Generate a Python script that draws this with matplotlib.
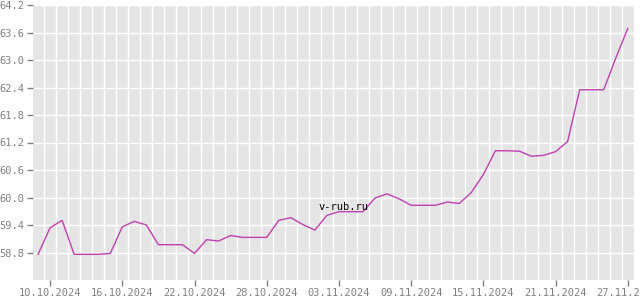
import matplotlib
matplotlib.use("Agg")
import matplotlib.pyplot as plt
import matplotlib.dates as mdates
import numpy as np
import datetime as dt

start_date = "2024-10-09"
values = [58.76, 59.34, 59.50, 58.76, 58.76, 58.76, 58.78, 59.36, 59.48, 59.40,
          58.97, 58.97, 58.97, 58.78, 59.08, 59.05, 59.17, 59.13, 59.13, 59.13,
          59.50, 59.56, 59.41, 59.29, 59.61, 59.69, 59.69, 59.69, 59.99, 60.08,
          59.97, 59.83, 59.83, 59.83, 59.90, 59.87, 60.11, 60.50, 61.02, 61.02,
          61.01, 60.90, 60.92, 61.00, 61.22, 62.35, 62.35, 62.35, 63.04, 63.69]
tick_labels = ["10.10.2024", "16.10.2024", "22.10.2024", "28.10.2024", "03.11.2024",
               "09.11.2024", "15.11.2024", "21.11.2024", "27.11.2024"]
y_ticks = [58.8, 59.4, 60.0, 60.6, 61.2, 61.8, 62.4, 63.0, 63.6, 64.2]
watermark = "v-rub.ru"

d0 = dt.datetime.strptime(start_date, "%Y-%m-%d")
dates = [d0 + dt.timedelta(days=i) for i in range(len(values))]
xnum = mdates.date2num(dates)

fig = plt.figure(figsize=(6.4, 3.0), dpi=100)
ax = fig.add_axes([33/640, 20/300, (635-33)/640, (280-5)/300])
ax.set_facecolor("#e5e5e5")
for s in ax.spines.values():
    s.set_visible(False)

ax.plot(xnum, values, color="#c040b0", lw=1.0, antialiased=True, zorder=3)

ax.set_xlim(xnum[0] - 0.42, xnum[-1] + 0.6)
ax.set_ylim(58.2, 64.2)

# vertical grid lines between days
for x in np.arange(xnum[0] + 0.5, xnum[-1] + 0.6, 1.0):
    ax.axvline(x, color="white", lw=1.0, zorder=1)
for y in y_ticks:
    ax.axhline(y, color="white", lw=1.0, zorder=1)

tick_dates = [dt.datetime.strptime(t, "%d.%m.%Y") for t in tick_labels]
ax.set_xticks(mdates.date2num(tick_dates))
ax.set_xticklabels(tick_labels)
ax.set_yticks(y_ticks)
ax.set_yticklabels([f"{v:.1f}" for v in y_ticks])
ax.tick_params(axis="both", colors="#808080", labelcolor="#808080", length=4, width=1,
               labelsize=7.5, pad=2)
for lab in ax.get_xticklabels() + ax.get_yticklabels():
    lab.set_family("DejaVu Sans Mono")

ax.text(0.515, 0.265, watermark, transform=ax.transAxes, ha="center", va="center",
        family="DejaVu Sans Mono", fontsize=7.5, color="black", zorder=4)

fig.savefig("out.png", dpi=100)
